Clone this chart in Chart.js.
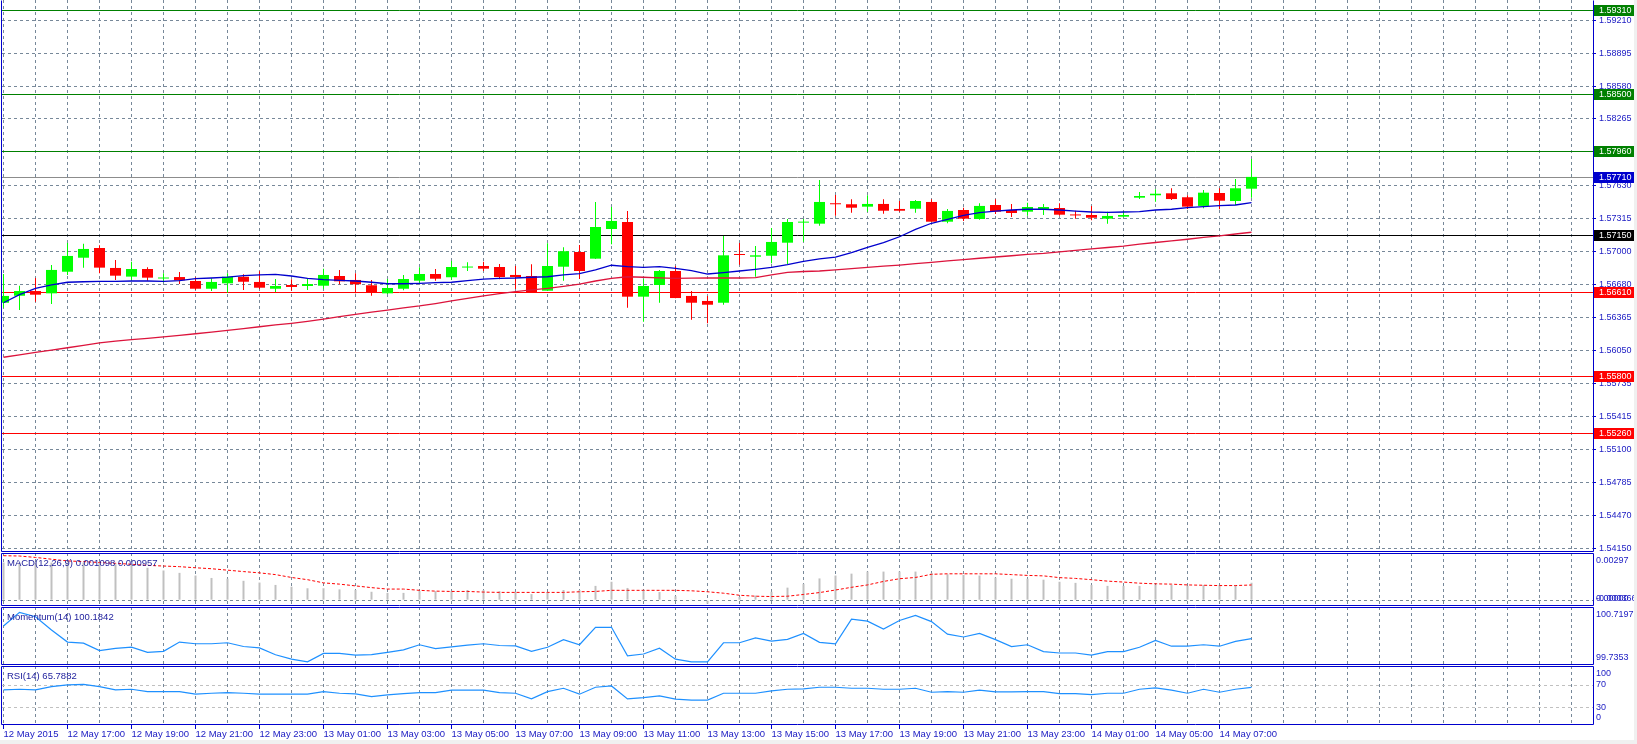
<!DOCTYPE html>
<html>
<head>
<meta charset="utf-8">
<title>GBPUSD M30</title>
<script src="https://cdn.jsdelivr.net/npm/chart.js@4.4.1/dist/chart.umd.min.js"></script>
<style>
  html, body { margin: 0; padding: 0; background: #f0f0f0; }
  #wrap { position: relative; width: 1634px; height: 740px; background: #fff; }
  #wrap canvas { position: absolute; left: 0; }
</style>
</head>
<body>
<div id="wrap">
  <canvas id="main" width="1634" height="552" style="top:0"></canvas>
  <canvas id="macd" width="1634" height="53" style="top:553px"></canvas>
  <canvas id="mom" width="1634" height="58" style="top:607px"></canvas>
  <canvas id="rsi" width="1634" height="74" style="top:666px"></canvas>
</div>
<script>
// candles (30 min bars)
const opens = [1.56505,1.56572,1.56617,1.56595,1.56802,1.56936,1.57029,1.56838,1.56755,1.56828,
  1.56737,1.56751,1.56713,1.56639,1.56691,1.56754,1.56704,1.56639,1.56675,1.56665,
  1.56668,1.56761,1.56723,1.56672,1.56595,1.56639,1.56716,1.56780,1.56749,1.56842,
  1.56857,1.56847,1.56771,1.56761,1.56620,1.56850,1.56991,1.56927,1.57211,1.57278,
  1.56563,1.56675,1.56809,1.56570,1.56522,1.56505,1.56968,1.56946,1.56955,1.57080,
  1.57272,1.57262,1.57452,1.57448,1.57425,1.57451,1.57403,1.57405,1.57470,1.57281,
  1.57393,1.57307,1.57441,1.57393,1.57377,1.57396,1.57412,1.57345,1.57345,1.57310,
  1.57329,1.57511,1.57534,1.57553,1.57515,1.57432,1.57556,1.57479,1.57597];
const highs = [1.56780,1.56668,1.56742,1.56866,1.57077,1.57070,1.57055,1.56914,1.56898,1.56844,
  1.56787,1.56799,1.56749,1.56739,1.56787,1.56777,1.56806,1.56732,1.56729,1.56739,
  1.56831,1.56819,1.56787,1.56723,1.56732,1.56771,1.56844,1.56828,1.56905,1.56892,
  1.56898,1.56876,1.56857,1.56873,1.57074,1.57036,1.57058,1.57470,1.57422,1.57384,
  1.56732,1.56819,1.56857,1.56617,1.56570,1.57144,1.57077,1.57048,1.57221,1.57307,
  1.57307,1.57680,1.57536,1.57495,1.57534,1.57495,1.57479,1.57489,1.57495,1.57403,
  1.57415,1.57457,1.57495,1.57451,1.57463,1.57451,1.57457,1.57386,1.57432,1.57377,
  1.57384,1.57565,1.57591,1.57601,1.57534,1.57585,1.57601,1.57690,1.57881];
const lows = [1.56457,1.56435,1.56515,1.56493,1.56771,1.56841,1.56787,1.56723,1.56716,1.56716,
  1.56701,1.56684,1.56627,1.56617,1.56601,1.56627,1.56636,1.56608,1.56620,1.56627,
  1.56639,1.56682,1.56595,1.56572,1.56589,1.56624,1.56684,1.56716,1.56723,1.56809,
  1.56809,1.56729,1.56636,1.56600,1.56617,1.56716,1.56732,1.56924,1.57065,1.56457,
  1.56323,1.56505,1.56548,1.56343,1.56308,1.56486,1.56869,1.56754,1.56883,1.56876,
  1.57090,1.57243,1.57337,1.57367,1.57377,1.57358,1.57377,1.57367,1.57280,1.57266,
  1.57288,1.57300,1.57355,1.57326,1.57338,1.57345,1.57338,1.57310,1.57294,1.57262,
  1.57323,1.57498,1.57473,1.57489,1.57403,1.57409,1.57400,1.57441,1.57511];
const closes = [1.56570,1.56617,1.56582,1.56819,1.56953,1.57020,1.56841,1.56764,1.56828,1.56745,
  1.56741,1.56720,1.56639,1.56704,1.56754,1.56706,1.56649,1.56665,1.56656,1.56684,
  1.56771,1.56710,1.56682,1.56608,1.56646,1.56732,1.56780,1.56735,1.56847,1.56846,
  1.56831,1.56751,1.56751,1.56605,1.56857,1.56998,1.56809,1.57230,1.57288,1.56563,
  1.56665,1.56809,1.56550,1.56505,1.56486,1.56959,1.56962,1.56959,1.57087,1.57278,
  1.57277,1.57470,1.57448,1.57415,1.57451,1.57386,1.57386,1.57479,1.57281,1.57384,
  1.57310,1.57432,1.57377,1.57364,1.57422,1.57422,1.57348,1.57341,1.57319,1.57336,
  1.57345,1.57527,1.57549,1.57498,1.57425,1.57559,1.57482,1.57601,1.57710];

// moving averages
const maFast = [1.56505,1.56582,1.56643,1.56675,1.56701,1.56706,1.56710,1.56710,1.56713,1.56713,
  1.56710,1.56716,1.56735,1.56742,1.56751,1.56764,1.56771,1.56777,1.56761,1.56739,
  1.56726,1.56720,1.56713,1.56701,1.56687,1.56687,1.56691,1.56697,1.56701,1.56716,
  1.56732,1.56739,1.56742,1.56749,1.56754,1.56771,1.56783,1.56819,1.56864,1.56850,
  1.56844,1.56850,1.56835,1.56812,1.56780,1.56793,1.56809,1.56825,1.56844,1.56869,
  1.56902,1.56924,1.56941,1.56984,1.57036,1.57080,1.57137,1.57208,1.57266,1.57304,
  1.57342,1.57367,1.57383,1.57393,1.57400,1.57400,1.57393,1.57383,1.57374,1.57371,
  1.57374,1.57377,1.57393,1.57400,1.57415,1.57425,1.57434,1.57441,1.57463];
const maSlow = [1.55983,1.56006,1.56029,1.56052,1.56074,1.56097,1.56120,1.56137,1.56151,1.56164,
  1.56179,1.56193,1.56208,1.56224,1.56241,1.56258,1.56275,1.56292,1.56308,1.56327,
  1.56349,1.56371,1.56393,1.56415,1.56435,1.56455,1.56474,1.56497,1.56522,1.56546,
  1.56570,1.56593,1.56612,1.56628,1.56643,1.56662,1.56684,1.56713,1.56739,1.56754,
  1.56749,1.56744,1.56739,1.56741,1.56742,1.56742,1.56742,1.56745,1.56771,1.56795,
  1.56804,1.56809,1.56820,1.56832,1.56843,1.56855,1.56866,1.56879,1.56892,1.56905,
  1.56917,1.56931,1.56943,1.56955,1.56968,1.56978,1.56992,1.57006,1.57020,1.57034,
  1.57048,1.57066,1.57082,1.57098,1.57113,1.57130,1.57146,1.57163,1.57180];

// indicators
const macdHist = [0.00237,0.00237,0.00237,0.00237,0.00237,0.00237,0.00237,0.00226,0.00226,0.00204,
  0.00187,0.00172,0.00155,0.00140,0.00135,0.00122,0.00111,0.00096,0.00085,0.00075,
  0.00075,0.00068,0.00064,0.00053,0.00046,0.00046,0.00059,0.00057,0.00059,0.00064,
  0.00064,0.00057,0.00053,0.00038,0.00049,0.00064,0.00064,0.00090,0.00116,0.00077,
  0.00064,0.00051,0.00025,0.00004,-0.00022,-0.00001,0.00020,0.00029,0.00053,0.00079,
  0.00103,0.00137,0.00155,0.00167,0.00180,0.00180,0.00180,0.00180,0.00172,0.00163,
  0.00159,0.00155,0.00142,0.00135,0.00135,0.00129,0.00116,0.00109,0.00096,0.00090,
  0.00090,0.00090,0.00096,0.00096,0.00090,0.00096,0.00096,0.00096,0.001098];
const macdSignal = [0.00280,0.00278,0.00269,0.00258,0.00247,0.00243,0.00237,0.00232,0.00226,0.00219,
  0.00215,0.00211,0.00204,0.00198,0.00189,0.00180,0.00172,0.00161,0.00143,0.00129,
  0.00109,0.00101,0.00090,0.00079,0.00070,0.00070,0.00062,0.00057,0.00055,0.00055,
  0.00051,0.00049,0.00049,0.00049,0.00049,0.00049,0.00053,0.00055,0.00062,0.00062,
  0.00062,0.00062,0.00062,0.00059,0.00053,0.00044,0.00031,0.00025,0.00023,0.00025,
  0.00036,0.00048,0.00064,0.00081,0.00096,0.00118,0.00135,0.00143,0.00163,0.00166,
  0.00166,0.00166,0.00166,0.00161,0.00156,0.00153,0.00142,0.00137,0.00129,0.00120,
  0.00114,0.00107,0.00103,0.00101,0.00096,0.00094,0.00092,0.00092,0.000957];
const momentum = [100.397,100.629,100.554,100.328,100.124,100.106,99.979,100.019,100.037,99.950,
  99.967,100.124,100.096,100.096,100.113,100.049,100.026,99.910,99.835,99.788,
  99.932,99.932,99.904,99.910,99.950,99.991,100.079,100.014,100.044,100.072,
  100.096,100.066,100.061,99.967,100.037,100.166,100.079,100.375,100.375,99.892,
  99.922,100.019,99.835,99.788,99.788,100.113,100.113,100.194,100.141,100.171,
  100.270,100.119,100.096,100.514,100.479,100.345,100.490,100.577,100.472,100.258,
  100.211,100.270,100.166,100.049,100.079,99.962,99.939,99.939,99.904,99.962,
  99.962,100.037,100.154,100.054,100.054,100.079,100.054,100.136,100.1842];
const rsi = [61.2,62.4,61.2,67.1,70.1,71.3,67.1,61.2,62.4,58.2,
  58.2,58.2,53.6,55.3,56.4,55.3,53.6,53.6,53.6,53.6,
  58.2,55.3,54.1,49.3,52.3,54.6,56.4,56.4,60.7,60.7,
  60.7,56.4,55.3,45.2,58.2,64.2,53.6,66.0,68.3,45.2,
  47.5,50.6,44.7,42.9,42.9,55.3,55.3,55.3,59.4,62.4,
  63.0,66.0,66.0,64.2,64.2,62.4,62.4,64.2,57.1,58.2,
  57.1,60.7,57.7,57.7,58.2,58.2,54.6,54.6,52.9,55.3,
  55.3,62.4,64.7,60.7,55.3,62.4,57.1,62.4,65.7882];

// axes
const timeLabels = ['12 May 2015','12 May 17:00','12 May 19:00','12 May 21:00','12 May 23:00',
  '13 May 01:00','13 May 03:00','13 May 05:00','13 May 07:00','13 May 09:00','13 May 11:00',
  '13 May 13:00','13 May 15:00','13 May 17:00','13 May 19:00','13 May 21:00','13 May 23:00',
  '14 May 01:00','14 May 05:00','14 May 07:00'];
const priceTicks = [1.54150,1.54470,1.54785,1.55100,1.55415,1.55735,1.56050,1.56365,1.56680,
  1.57000,1.57315,1.57630,1.57950,1.58265,1.58580,1.58895,1.59210];
const macdAxis = [0.00297, 0, -0.000366];
const momAxis = [100.7197, 99.7353];
const rsiAxis = [100, 70, 30, 0];
const rsiLevels = [70, 30, 0];

// horizontal support / resistance levels
const levelValues = [1.59310, 1.58500, 1.57960, 1.57710, 1.57150, 1.56610, 1.55800, 1.55260];
const levelLineColors = ['#008000','#008000','#008000','#8c8c8c','#000000','#ff0000','#ff0000','#ff0000'];
const levelBoxColors = ['#008000','#008000','#008000','#0000cd','#000000','#ff0000','#ff0000','#ff0000'];

const BULL = '#00ff00', BEAR = '#ff0000';
const GRID = '#778899', FRAME = '#0000cd', AXIS_TEXT = '#2020c4', TITLE_TEXT = '#1c1c9c';
const FAMILY = '"Liberation Sans", Arial, sans-serif';
const SIDE_CSS = '9px ' + FAMILY;
const TITLE_CSS = '9.5px ' + FAMILY;

const X_MIN = -0.09375, X_MAX = 99.34375;
const PRICE_MIN = 1.54118, PRICE_MAX = 1.59404;
const gridSteps = [];
for (let k = 0; k <= 98; k += 2) gridSteps.push(k);

const pts = arr => arr.map((v, i) => ({ x: i, y: v }));
const candleColors = closes.map((c, i) => c >= opens[i] ? BULL : BEAR);

Chart.defaults.animation = false;
Chart.defaults.responsive = false;
Chart.defaults.events = [];
Chart.defaults.plugins.legend.display = false;
Chart.defaults.plugins.tooltip.enabled = false;

// no extra room for half labels at the ends of an axis
const noPad = s => { s.paddingTop = 0; s.paddingBottom = 0; s.paddingLeft = 0; s.paddingRight = 0; };

const xAxis = withLabels => ({
  type: 'linear', min: X_MIN, max: X_MAX, offset: false,
  afterBuildTicks: s => { s.ticks = gridSteps.map(v => ({ value: v })); },
  afterFit: s => { s.height = withLabels ? 15 : 0; noPad(s); },
  grid: {
    color: GRID, offset: false, drawTicks: withLabels, tickLength: 4,
    tickColor: c => (c.tick && c.tick.value % 4 === 0 && timeLabels[c.tick.value / 4]) ? FRAME : 'rgba(0,0,0,0)'
  },
  border: { display: false, dash: [3, 3] },
  ticks: {
    display: withLabels, autoSkip: false, maxRotation: 0, align: 'start', padding: 0,
    color: AXIS_TEXT, font: { family: FAMILY, size: 9.5 },
    callback: v => (v % 4 === 0 && timeLabels[v / 4]) || ''
  }
});

const panelY = (min, max, lines, colors) => {
  const axis = {
    position: 'right', min: min, max: max,
    afterFit: s => { s.width = 41; noPad(s); },
    grid: { drawTicks: false, display: !!lines, color: c => (colors && colors[c.index]) || GRID },
    border: { display: false, dash: [3, 3] },
    ticks: { display: false }
  };
  if (lines) axis.afterBuildTicks = s => { s.ticks = lines.map(v => ({ value: v })); };
  return axis;
};

// blue frame round every panel
const frame = {
  id: 'frame',
  afterDraw(chart, args, o) {
    const { ctx, chartArea: a } = chart;
    const l = a.left - 0.5, r = a.right + 0.5, t = a.top + 0.5, b = a.bottom - 0.5;
    ctx.save();
    ctx.strokeStyle = FRAME;
    ctx.lineWidth = 1;
    ctx.beginPath();
    ctx.moveTo(l, t); ctx.lineTo(l, b); ctx.lineTo(r, b); ctx.lineTo(r, t);
    if (!o.noTop) ctx.lineTo(l, t);
    ctx.stroke();
    ctx.restore();
  }
};

// indicator name + right hand labels
const panelText = {
  id: 'panelText',
  afterDraw(chart, args, o) {
    if (!o.title) return;
    const { ctx, chartArea: a, scales: { y } } = chart;
    ctx.save();
    ctx.textBaseline = 'middle';
    ctx.textAlign = 'left';
    ctx.font = TITLE_CSS;
    ctx.fillStyle = TITLE_TEXT;
    ctx.fillText(o.title, 7, a.top + 10);
    ctx.font = SIDE_CSS;
    ctx.fillStyle = AXIS_TEXT;
    o.values.forEach((v, k) => {
      const py = Math.min(Math.max(y.getPixelForValue(v), a.top + 7.5), a.bottom - 7);
      ctx.fillText(o.format(v, k), a.right + 3, py);
    });
    ctx.restore();
  }
};

const levels = {
  id: 'levels',
  beforeDatasetsDraw(chart) {
    const { ctx, chartArea: a, scales: { y } } = chart;
    ctx.save();
    ctx.lineWidth = 1;
    levelValues.forEach((v, k) => {
      const py = Math.round(y.getPixelForValue(v)) + 0.5;
      ctx.strokeStyle = levelLineColors[k];
      ctx.beginPath(); ctx.moveTo(a.left, py); ctx.lineTo(a.right, py); ctx.stroke();
    });
    ctx.restore();
  },
  afterDraw(chart) {
    const { ctx, chartArea: a, scales: { y } } = chart;
    ctx.save();
    ctx.font = SIDE_CSS;
    ctx.textBaseline = 'middle';
    levelValues.forEach((v, k) => {
      const py = Math.round(y.getPixelForValue(v));
      ctx.fillStyle = levelBoxColors[k];
      ctx.fillRect(a.right + 1, py - 5, 40, 11);
      ctx.fillStyle = '#ffffff';
      ctx.fillText(v.toFixed(5), a.right + 6, py + 0.5);
    });
    ctx.restore();
  }
};

Chart.register(frame, panelText);

// price panel
new Chart(document.getElementById('main'), {
  type: 'bar',
  data: {
    datasets: [
      { type: 'line', data: pts(maFast), borderColor: '#0000cd', borderWidth: 1.3, pointRadius: 0, order: 0 },
      { type: 'line', data: pts(maSlow), borderColor: '#dc143c', borderWidth: 1.3, pointRadius: 0, order: 0 },
      { data: opens.map((o, i) => ({ x: i, y: [o, closes[i]] })), backgroundColor: candleColors,
        barThickness: 11, minBarLength: 1, grouped: false, inflateAmount: 0, order: 1 },
      { data: lows.map((l, i) => ({ x: i, y: [l, highs[i]] })), backgroundColor: candleColors,
        barThickness: 1, grouped: false, inflateAmount: 0, order: 2 }
    ]
  },
  options: {
    layout: { padding: { left: 2, right: 0, top: 0, bottom: 0 } },
    plugins: { frame: { noTop: true } },
    scales: {
      x: xAxis(false),
      y: {
        position: 'right', min: PRICE_MIN, max: PRICE_MAX,
        afterBuildTicks: s => { s.ticks = priceTicks.map(v => ({ value: v })); },
        afterFit: s => { s.width = 41; noPad(s); },
        grid: { color: GRID, tickLength: 3, tickColor: FRAME },
        border: { display: false, dash: [3, 3] },
        ticks: { autoSkip: false, padding: 3, color: AXIS_TEXT, font: { family: FAMILY, size: 9 },
          callback: v => v.toFixed(5) }
      }
    }
  },
  plugins: [levels]
});

// MACD
new Chart(document.getElementById('macd'), {
  type: 'bar',
  data: {
    datasets: [
      { type: 'line', data: pts(macdSignal), borderColor: '#ff0000', borderWidth: 1, borderDash: [3, 2],
        pointRadius: 0, order: 0 },
      { data: pts(macdHist), backgroundColor: '#c0c0c0', barThickness: 2, grouped: false, inflateAmount: 0, order: 1 }
    ]
  },
  options: {
    layout: { padding: { left: 2, right: 0, top: 0, bottom: 0 } },
    plugins: {
      panelText: {
        title: 'MACD(12,26,9) ' + macdHist[macdHist.length - 1].toFixed(6) + ' ' + macdSignal[macdSignal.length - 1].toFixed(6),
        values: [macdAxis[0], macdAxis[1], macdAxis[2]],
        format: v => v === 0 ? '0.00000' : (Math.abs(v) < 0.001 ? v.toFixed(6) : v.toFixed(5))
      }
    },
    scales: { x: xAxis(false), y: panelY(macdAxis[2], macdAxis[0], [0], [GRID]) }
  }
});

// Momentum
new Chart(document.getElementById('mom'), {
  type: 'line',
  data: { datasets: [{ data: pts(momentum), borderColor: '#1e90ff', borderWidth: 1.2, pointRadius: 0 }] },
  options: {
    layout: { padding: { left: 2, right: 0, top: 0, bottom: 0 } },
    plugins: {
      panelText: {
        title: 'Momentum(14) ' + momentum[momentum.length - 1].toFixed(4),
        values: momAxis,
        format: v => v.toFixed(4)
      }
    },
    scales: { x: xAxis(false), y: panelY(momAxis[1], momAxis[0], null) }
  }
});

// RSI
new Chart(document.getElementById('rsi'), {
  type: 'line',
  data: { datasets: [{ data: pts(rsi), borderColor: '#1e90ff', borderWidth: 1.2, pointRadius: 0 }] },
  options: {
    layout: { padding: { left: 2, right: 0, top: 0, bottom: 0 } },
    plugins: {
      panelText: {
        title: 'RSI(14) ' + rsi[rsi.length - 1].toFixed(4),
        values: rsiAxis,
        format: v => String(v)
      }
    },
    scales: { x: xAxis(true), y: panelY(-1.5, 104, rsiLevels, ['#c0c0c0', '#c0c0c0', GRID]) }
  }
});
</script>
</body>
</html>
